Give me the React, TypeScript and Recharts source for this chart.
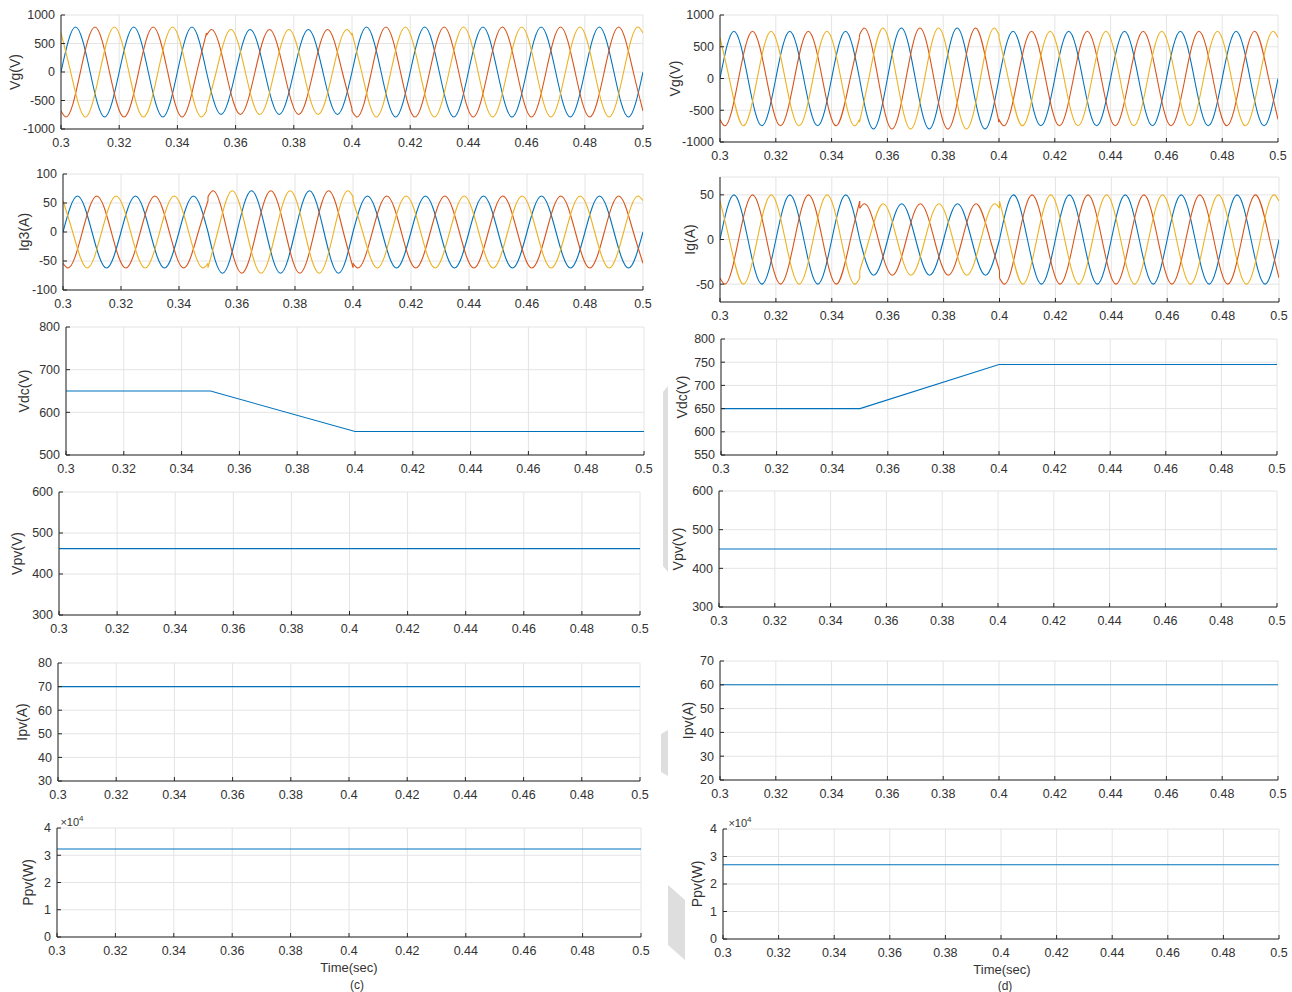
import React from 'react';
import { LineChart, Line, XAxis, YAxis, CartesianGrid } from 'recharts';

// time axis
const xTicks = [0.3, 0.32, 0.34, 0.36, 0.38, 0.4, 0.42, 0.44, 0.46, 0.48, 0.5];
const breaks = [0.3, 0.35, 0.4, 0.5];
// first extremum after each break, per phase (blue, red, yellow)
const phaseOff = [0.005, 1 / 600, 5 / 600];
const phaseColors = ['#0072BD', '#D95319', '#EDB120'];

// each segment: [value at segment start, extremes..., value at segment end]
const vgCBlue = [
  [0, 790, -790, 790, -790, 790, 0],
  [0, -745, 745, -745, 745, -745, 0],
  [0, 790, -790, 790, -790, 790, -790, 790, -790, 790, -790, 0],
];
const vgCRed = [
  [-684, -790, 790, -790, 790, -790, 684],
  [645, 745, -745, 745, -745, 745, -645],
  [-684, -790, 790, -790, 790, -790, 790, -790, 790, -790, 790, -684],
];
const vgCYellow = [
  [684, -790, 790, -790, 790, -790, -684],
  [-645, 745, -745, 745, -745, 745, 645],
  [684, -790, 790, -790, 790, -790, 790, -790, 790, -790, 790, 684],
];

const igCBlue = [
  [0, 62, -62, 62, -62, 62, 0],
  [0, -71, 71, -71, 71, -71, 0],
  [0, 62, -62, 62, -62, 62, -62, 62, -62, 62, -62, 0],
];
const igCRed = [
  [-54, -62, 62, -62, 62, -62, 54],
  [61, 71, -71, 71, -71, 71, -61],
  [-54, -62, 62, -62, 62, -62, 62, -62, 62, -62, 62, -54],
];
const igCYellow = [
  [54, -62, 62, -62, 62, -62, -54],
  [-61, 71, -71, 71, -71, 71, 61],
  [54, -62, 62, -62, 62, -62, 62, -62, 62, -62, 62, 54],
];

const vgDBlue = [
  [0, 745, -745, 745, -745, 745, 0],
  [0, -795, 795, -795, 795, -795, 0],
  [0, 745, -745, 745, -745, 745, -745, 745, -745, 745, -745, 0],
];
const vgDRed = [
  [-645, -745, 745, -745, 745, -745, 645],
  [688, 795, -795, 795, -795, 795, -688],
  [-645, -745, 745, -745, 745, -745, 745, -745, 745, -745, 745, -645],
];
const vgDYellow = [
  [645, -745, 745, -745, 745, -745, -645],
  [-688, 795, -795, 795, -795, 795, 688],
  [645, -745, 745, -745, 745, -745, 745, -745, 745, -745, 745, 645],
];

const igDBlue = [
  [0, 50, -50, 50, -50, 50, 0],
  [0, -40, 40, -40, 40, -40, 0],
  [0, 50, -50, 50, -50, 50, -50, 50, -50, 50, -50, 0],
];
const igDRed = [
  [-43, -50, 50, -50, 50, -50, 43],
  [35, 40, -40, 40, -40, 40, -35],
  [-43, -50, 50, -50, 50, -50, 50, -50, 50, -50, 50, -43],
];
const igDYellow = [
  [43, -50, 50, -50, 50, -50, -43],
  [-35, 40, -40, 40, -40, 40, 35],
  [43, -50, 50, -50, 50, -50, 50, -50, 50, -50, 50, 43],
];

// dc quantities
const vdcTimes = [0.3, 0.35, 0.4, 0.5];
const vdcC = [650, 650, 555, 555];
const vdcD = [650, 650, 745, 745];
const flatTimes = [0.3, 0.5];
const vpvC = [462, 462];
const vpvD = [450, 450];
const ipvC = [70, 70];
const ipvD = [60, 60];
const ppvC = [32300, 32300];
const ppvD = [27000, 27000];

type Pt = { t: number; v: number };
type Series = { data: Pt[]; color: string; curve: any };

// natural cubic spline in x (handles uneven spacing), drawn as beziers
function drawSpline(ctx: any, xs: number[], ys: number[]) {
  const n = xs.length;
  if (!n) return;
  ctx.moveTo(xs[0], ys[0]);
  if (n < 3) {
    for (let i = 1; i < n; i++) ctx.lineTo(xs[i], ys[i]);
    return;
  }
  const h: number[] = [];
  for (let i = 0; i < n - 1; i++) h.push(xs[i + 1] - xs[i]);
  const a: number[] = [], b: number[] = [], c: number[] = [], d: number[] = [];
  for (let i = 1; i < n - 1; i++) {
    a.push(h[i - 1]);
    b.push(2 * (h[i - 1] + h[i]));
    c.push(h[i]);
    d.push(6 * ((ys[i + 1] - ys[i]) / h[i] - (ys[i] - ys[i - 1]) / h[i - 1]));
  }
  const m = a.length;
  for (let i = 1; i < m; i++) {
    const w = a[i] / b[i - 1];
    b[i] -= w * c[i - 1];
    d[i] -= w * d[i - 1];
  }
  const M = new Array(n).fill(0);
  M[m] = d[m - 1] / b[m - 1];
  for (let i = m - 2; i >= 0; i--) M[i + 1] = (d[i] - c[i] * M[i + 2]) / b[i];
  for (let i = 0; i < n - 1; i++) {
    const hi = h[i], s = (ys[i + 1] - ys[i]) / hi;
    const m0 = s - (hi * (2 * M[i] + M[i + 1])) / 6;
    const m1 = s + (hi * (M[i] + 2 * M[i + 1])) / 6;
    ctx.bezierCurveTo(xs[i] + hi / 3, ys[i] + (m0 * hi) / 3, xs[i + 1] - hi / 3, ys[i + 1] - (m1 * hi) / 3, xs[i + 1], ys[i + 1]);
  }
}

const splineX = (ctx: any) => {
  let xs: number[] = [];
  let ys: number[] = [];
  return {
    areaStart() {},
    areaEnd() {},
    lineStart() { xs = []; ys = []; },
    lineEnd() { drawSpline(ctx, xs, ys); },
    point(x: number, y: number) { xs.push(+x); ys.push(+y); },
  };
};

function segPoints(t0: number, t1: number, off: number, vals: number[]): Pt[] {
  const pts: Pt[] = [{ t: t0, v: vals[0] }];
  const ext = vals.slice(1, -1);
  ext.forEach((v, k) => {
    const t = t0 + off + 0.01 * k;
    if (t - 0.005 > t0 + 1e-6) pts.push({ t: t - 0.005, v: 0 });
    pts.push({ t, v });
  });
  const z = t0 + off + 0.01 * (ext.length - 1) + 0.005;
  if (z < t1 - 1e-6) pts.push({ t: z, v: 0 });
  pts.push({ t: t1, v: vals[vals.length - 1] });
  return pts;
}

function waveSeries(phases: number[][][]): Series[] {
  const out: Series[] = [];
  phases.forEach((segs, p) => {
    segs.forEach((vals, s) => {
      out.push({ data: segPoints(breaks[s], breaks[s + 1], phaseOff[p], vals), color: phaseColors[p], curve: splineX });
      if (s > 0) {
        const prev = segs[s - 1];
        out.push({
          data: [{ t: breaks[s], v: prev[prev.length - 1] }, { t: breaks[s], v: vals[0] }],
          color: phaseColors[p],
          curve: 'linear',
        });
      }
    });
  });
  return out;
}

function dcSeries(times: number[], vals: number[]): Series[] {
  return [{ data: times.map((t, i) => ({ t, v: vals[i] })), color: phaseColors[0], curve: 'linear' }];
}

const fmtX = (v: number) => String(+v.toFixed(2));
const boxColor = '#262626';
const textColor = '#333';

type PanelProps = {
  left: number; top: number; width: number; height: number;
  domain: [number, number]; ticks: number[]; label: string; labelX: number;
  series: Series[]; fmtY?: (v: number) => string;
};

function Panel({ left, top, width, height, domain, ticks, label, labelX, series, fmtY }: PanelProps) {
  const LW = 60, T = 10, R = 16, XH = 26;
  const axisLine = { stroke: boxColor };
  return (
    <div style={{ position: 'absolute', left: left - LW, top: top - T }}>
      <LineChart width={width + LW + R} height={height + T + XH} margin={{ top: T, right: R, left: 0, bottom: 0 }}>
        <CartesianGrid stroke="#e4e4e4" />
        <XAxis type="number" dataKey="t" domain={[0.3, 0.5]} ticks={xTicks} interval={0} allowDataOverflow
          height={XH} tickSize={-4} tickMargin={13} tickFormatter={fmtX}
          axisLine={axisLine} tickLine={axisLine} tick={{ fontSize: 12.5, fill: textColor }} />
        <XAxis xAxisId="top" orientation="top" type="number" domain={[0.3, 0.5]} ticks={xTicks} interval={0} allowDataOverflow
          height={0} tickSize={-4} tick={false} axisLine={axisLine} tickLine={axisLine} />
        <YAxis type="number" domain={domain} ticks={ticks} interval={0} allowDataOverflow width={LW}
          tickSize={-4} tickMargin={10} tickFormatter={fmtY}
          axisLine={axisLine} tickLine={axisLine} tick={{ fontSize: 12.5, fill: textColor }}
          label={{ value: label, angle: -90, position: 'insideLeft', offset: labelX - (left - LW),
            style: { textAnchor: 'middle', fontSize: 14, fill: textColor } }} />
        <YAxis yAxisId="r" orientation="right" type="number" domain={domain} ticks={ticks} interval={0} allowDataOverflow
          width={0} tickSize={-4} tick={false} axisLine={axisLine} tickLine={axisLine} />
        {series.map((s, i) => (
          <Line key={i} data={s.data} dataKey="v" type={s.curve} stroke={s.color} strokeWidth={1.1}
            dot={false} activeDot={false} isAnimationActive={false} />
        ))}
      </LineChart>
    </div>
  );
}

const vgTicks = [-1000, -500, 0, 500, 1000];
const ppvFmt = (v: number) => String(v / 10000);
const ppvTicks = [0, 10000, 20000, 30000, 40000];

export default function App() {
  const txt: React.CSSProperties = { position: 'absolute', fontSize: 12, color: textColor, whiteSpace: 'nowrap', transform: 'translate(-50%, -50%)' };
  return (
    <div style={{ position: 'absolute', left: 0, top: 0, width: 1292, height: 992, background: '#fff',
      fontFamily: '"Liberation Sans", Arial, Helvetica, sans-serif' }}>
      <svg width={1292} height={992} style={{ position: 'absolute', left: 0, top: 0 }}>
        <polygon points="663,392 668,386 668,572 663,566" fill="#dedede" />
        <polygon points="661,734 668,730 668,776 661,772" fill="#dedede" />
        <polygon points="668,885 685,900 685,960 668,945" fill="#dedede" />
      </svg>

      {/* (c) */}
      <Panel left={61} top={15} width={582} height={114} domain={[-1000, 1000]} ticks={vgTicks} label="Vg(V)" labelX={15}
        series={waveSeries([vgCBlue, vgCRed, vgCYellow])} />
      <Panel left={63} top={174} width={580} height={116} domain={[-100, 100]} ticks={[-100, -50, 0, 50, 100]} label="Ig3(A)" labelX={24}
        series={waveSeries([igCBlue, igCRed, igCYellow])} />
      <Panel left={66} top={327} width={578} height={128} domain={[500, 800]} ticks={[500, 600, 700, 800]} label="Vdc(V)" labelX={24}
        series={dcSeries(vdcTimes, vdcC)} />
      <Panel left={59} top={492} width={581} height={123} domain={[300, 600]} ticks={[300, 400, 500, 600]} label="Vpv(V)" labelX={17}
        series={dcSeries(flatTimes, vpvC)} />
      <Panel left={58} top={663} width={582} height={118} domain={[30, 80]} ticks={[30, 40, 50, 60, 70, 80]} label="Ipv(A)" labelX={22}
        series={dcSeries(flatTimes, ipvC)} />
      <Panel left={57} top={828} width={584} height={109} domain={[0, 40000]} ticks={ppvTicks} label="Ppv(W)" labelX={28}
        series={dcSeries(flatTimes, ppvC)} fmtY={ppvFmt} />

      {/* (d) */}
      <Panel left={720} top={15} width={558} height={127} domain={[-1000, 1000]} ticks={vgTicks} label="Vg(V)" labelX={675}
        series={waveSeries([vgDBlue, vgDRed, vgDYellow])} />
      <Panel left={720} top={177} width={559} height={125} domain={[-70, 70]} ticks={[-50, 0, 50]} label="Ig(A)" labelX={690}
        series={waveSeries([igDBlue, igDRed, igDYellow])} />
      <Panel left={721} top={339} width={556} height={116} domain={[550, 800]} ticks={[550, 600, 650, 700, 750, 800]} label="Vdc(V)" labelX={682}
        series={dcSeries(vdcTimes, vdcD)} />
      <Panel left={719} top={491} width={558} height={116} domain={[300, 600]} ticks={[300, 400, 500, 600]} label="Vpv(V)" labelX={678}
        series={dcSeries(flatTimes, vpvD)} />
      <Panel left={720} top={661} width={558} height={119} domain={[20, 70]} ticks={[20, 30, 40, 50, 60, 70]} label="Ipv(A)" labelX={688}
        series={dcSeries(flatTimes, ipvD)} />
      <Panel left={723} top={829} width={556} height={110} domain={[0, 40000]} ticks={ppvTicks} label="Ppv(W)" labelX={697}
        series={dcSeries(flatTimes, ppvD)} fmtY={ppvFmt} />

      <div style={{ ...txt, left: 72, top: 821, fontSize: 11 }}>×10<sup style={{ fontSize: 8 }}>4</sup></div>
      <div style={{ ...txt, left: 740, top: 822, fontSize: 11 }}>×10<sup style={{ fontSize: 8 }}>4</sup></div>
      <div style={{ ...txt, left: 349, top: 967, fontSize: 13 }}>Time(sec)</div>
      <div style={{ ...txt, left: 1002, top: 969, fontSize: 13 }}>Time(sec)</div>
      <div style={{ ...txt, left: 357, top: 985 }}>(c)</div>
      <div style={{ ...txt, left: 1005, top: 986 }}>(d)</div>
    </div>
  );
}
